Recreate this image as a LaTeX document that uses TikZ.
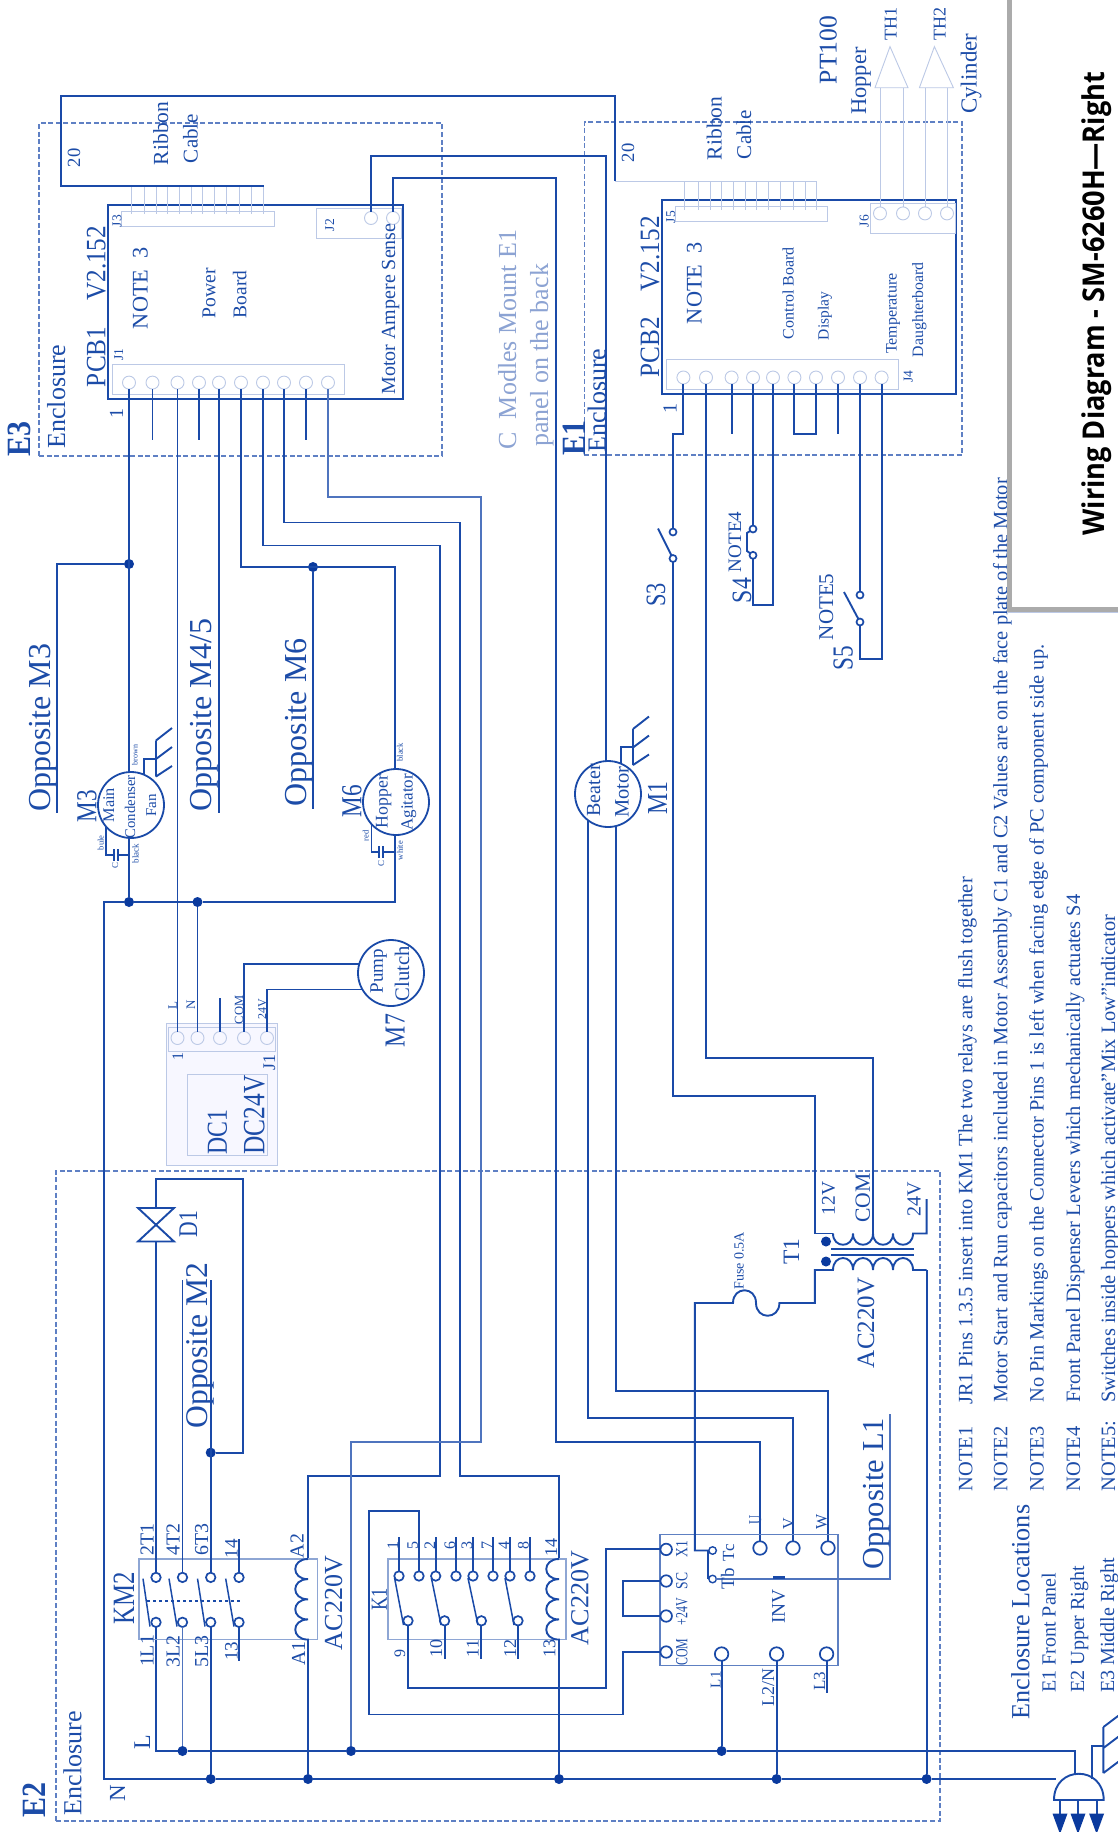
\documentclass[tikz,border=0pt]{standalone}
\usepackage{fontspec}
\setmainfont{Liberation Serif}
\newfontfamily\titlefont{Open Sans}
\definecolor{wirec}{HTML}{1A4AA8}
\definecolor{wirel}{HTML}{4F74BE}
\definecolor{dotc}{HTML}{0A3A9E}
\definecolor{lightc}{HTML}{BCC9E6}
\definecolor{midc}{HTML}{5E80C2}
\definecolor{dashc}{HTML}{5F80C4}
\definecolor{txtc}{HTML}{1C4CA8}
\definecolor{paleT}{HTML}{8CA3D3}
\definecolor{panelc}{HTML}{ABABAB}
\tikzset{
 wire/.style={draw=wirec,line width=1.9pt,line join=miter},
 wirelt/.style={draw=wirel,line width=1.7pt},
 thinw/.style={draw=lightc,line width=.9pt},
 dashbox/.style={draw=dashc,line width=1.3pt,dash pattern=on 5pt off 2.6pt,inner sep=0,outer sep=0},
 pcb/.style={draw=wirec,line width=1.8pt,inner sep=0,outer sep=0},
 hdr/.style={draw=lightc,line width=.9pt,inner sep=0,outer sep=0},
 relay/.style={draw=midc!70,line width=1.3pt,inner sep=0,outer sep=0},
 invbox/.style={draw=midc,line width=1.4pt,inner sep=0,outer sep=0},
 dcbox/.style={draw=lightc,fill=blue!3,line width=1pt,inner sep=0,outer sep=0},
 pinc/.style={circle,draw=lightc,line width=.9pt,minimum size=13pt,inner sep=0,outer sep=0},
 cont/.style={circle,draw=wirec,line width=1.7pt,minimum size=9.5pt,inner sep=0,outer sep=0},
 bigt/.style={circle,draw=wirec,line width=1.7pt,minimum size=13.5pt,inner sep=0,outer sep=0},
 smallt/.style={circle,draw=wirec,line width=1.4pt,minimum size=7.5pt,inner sep=0,outer sep=0},
 jdot/.style={circle,fill=dotc,minimum size=10pt,inner sep=0,outer sep=0},
 motor/.style={circle,draw=wirec,line width=1.8pt,minimum size=66pt,inner sep=0,outer sep=0},
 lbl/.style={rotate=90,anchor=base west,inner sep=0,outer sep=0,text=txtc,font=\fontsize{#1}{#1}\selectfont},
 gnd/.pic={\draw[wire] (0,0) -- (0,36) (0,0) -- (16,-12.5) (0,18.5) -- (16,6.5) (0,36) -- (16,25.5);}
}
\newcounter{lb}
\newcommand\lb[4][]{\stepcounter{lb}\node[lbl={#2},name=lb\arabic{lb},#1] at (#3) {#4};}
\newcommand\rbox[6]{\node[#1,name=#2,minimum width={(#5)-(#3)},minimum height={(#6)-(#4)}] at ({((#3)+(#5))/2},{((#4)+(#6))/2}) {};}
\begin{document}
\begin{tikzpicture}[x=1pt,y=-1pt]
\useasboundingbox (0,0) rectangle (1118,1832);
\fill[white] (0,0) rectangle (1118,1832);
% enclosures
\rbox{dashbox}{E3box}{39}{123}{442}{456}
\rbox{dashbox}{E1box}{584.4}{122}{962}{455}
\rbox{dashbox}{E2box}{56}{1171}{940}{1821}
% PCB1
\rbox{pcb}{PCB1}{108}{205}{403}{399}
\rbox{hdr}{J3}{121.4}{211}{274}{226}
\rbox{hdr}{J2}{316}{208}{401}{238}
\rbox{hdr}{J1}{112.5}{364}{344.6}{394.5}
\foreach \n/\x in {a/129,b/152.5,c/177.5,d/199,e/219,f/241,g/263,h/284,i/306,j/328}
  \node[pinc] (J1\n) at (\x,382.6) {};
\node[pinc] (J2a) at (371,218) {};
\node[pinc] (J2b) at (393,218) {};
\foreach \x in {131,144,156,167.5,179,191,202.5,214,226,239,251,263}
  \draw[thinw] (\x,186) -- (\x,214);
% PCB2
\rbox{pcb}{PCB2}{661.6}{199.6}{956}{394}
\rbox{hdr}{J5}{675}{206}{827.6}{221}
\rbox{hdr}{J6}{870}{203.6}{955}{233}
\rbox{hdr}{J4}{666}{359}{898}{389}
\foreach \n/\x in {a/683.4,b/706,c/731.6,d/753,e/773,f/794.4,g/816,h/838,i/860,j/881.6}
  \node[pinc] (J4\n) at (\x,377.5) {};
\foreach \n/\x in {a/880,b/903,c/925,d/947}
  \node[pinc] (J6\n) at (\x,213.4) {};
\foreach \x in {684.4,698,710,721.6,733,745,756.6,768,780,793,805,816}
  \draw[thinw] (\x,181) -- (\x,209.5);
\node[coordinate] (TH1) at (890,46.6) {};
\node[coordinate] (TH2) at (934.4,46.6) {};
\draw[thinw] (TH1) -- (875,87.7) -- (908,87.7) -- cycle;
\draw[thinw] (TH2) -- (919.4,87.7) -- (953.4,87.7) -- cycle;
\draw[thinw] (880,87.7) -- (J6a.north) (903,87.7) -- (J6b.north) (925,87.7) -- (J6c.north) (947,87.7) -- (J6d.north);
% motors
\node[motor] (M3) at (131,805) {};
\node[motor] (M6) at (396,802) {};
\node[motor] (M7) at (391,973) {};
\node[motor] (M1) at (608,794) {};
% junctions
\node[jdot] (dA) at (129,564) {};
\node[jdot] (dB) at (313,567) {};
\node[jdot] (dC) at (129,902) {};
\node[jdot] (dD) at (197.5,902) {};
\node[jdot] (dE) at (210.7,1452.6) {};
\node[jdot] (dL1) at (182.5,1751) {};
\node[jdot] (dL2) at (351,1751) {};
\node[jdot] (dL3) at (721.6,1751) {};
\node[jdot] (dN1) at (210.7,1779) {};
\node[jdot] (dN2) at (308,1779) {};
\node[jdot] (dN3) at (559,1779) {};
\node[jdot] (dN4) at (776.6,1779) {};
\node[jdot] (dN5) at (926.6,1779) {};
\coordinate (stub) at (0,439.5);
\coordinate (oM3) at (57,812.5);
\coordinate (oM45) at (219,812.5);
\coordinate (oM6) at (313,809);
% J1 wires
\draw[wire] (J1a.south) -- (J1a.south |- M3.north);
\draw[wire] (dA) -| (oM3);
\draw[wire] (J1b.south) -- (J1b |- stub);
\draw[wire] (J1c.south) -- (177.5,1031.5);
\draw[wire] (J1d.south) -- (J1d |- stub);
\draw[wire] (J1e.south) -- (oM45);
\draw[wire] (J1f.south) |- (394.6,567) -- (394.6,768.5);
\draw[wire] (dB) -- (oM6);
\draw[wire] (J1g.south) |- (439.6,545.5) -- (439.6,1476) -| (308,1559);
\draw[wire] (J1h.south) |- (459.6,522.5) -- (459.6,1476) -| (559,1559);
\draw[wire] (J1i.south) -- (J1i |- stub);
\draw[wirelt] (J1j.south) |- (481,497) -- (481,1442) -| (dL2);
% N network
\draw[wire] (394.6,835.5) -- (394.6,902) -- (dD) -- (dC) -- (104,902) -- (104,1779) -- (dN1) -- (dN2) -- (dN3) -- (dN4) -- (dN5) -- (1056,1779);
\draw[wire] (129,838) -- (dC);
\draw[wire] (dD) -- (197.5,1031.5);
% L bus
\draw[wire] (156,1627) -- (156,1751) -- (dL1) -- (dL2) -- (dL3) -- (1075,1751) -- (1075,1773);
% J2
\draw[wire] (J2a.north) |- (606,156) -- (606,761);
\node[bigt] (U) at (760,1548) {};
\node[bigt] (V) at (793,1548) {};
\node[bigt] (W) at (828,1548) {};
\draw[wire] (J2b.north) |- (556,178) -- (556,1442) -| (U.north);
\draw[wire] (M1.232) |- (793,1418) -- (V.north);
\draw[wire] (M1.284) |- (828,1391) -- (W.north);
% ribbon
\draw[wire] (263.6,186) -- (61,186) -- (61,96) -- (615,96) -- (615,181);
\draw[thinw] (615,181) -- (816,181);
% grounds
\draw[wire] (M3.67) |- (156,759);
\pic at (156,740.5) {gnd};
\draw[wire] (621,764) -- (621,747) -- (633,747);
\pic at (633,729) {gnd};
% caps
\draw[wire] (M3.220) |- (113.6,855);
\draw[wire] (113.6,849) -- (113.6,861) (118,849) -- (118,861) (118,855) -- (129,855);
\draw[wire] (M6.222) |- (379,852);
\draw[wire] (379,846) -- (379,858) (383,846) -- (383,858) (383,852) -- (394.6,852);
% DC1
\rbox{dcbox}{DC1}{166}{1023}{277.5}{1165}
\rbox{hdr}{DC1h}{168}{1027}{275.7}{1051}
\rbox{hdr}{DC1i}{187.5}{1074}{267}{1155}
\foreach \n/\x in {a/177.5,b/197.5,c/220,d/244,e/267}
  \node[pinc] (DC\n) at (\x,1038) {};
\draw[wire] (177.5,1020) -- (DCa.north);
\draw[wire] (197.5,1020) -- (DCb.north);
\draw[wire] (DCc.north) -- (220,997.5);
\draw[wire] (DCd.north) |- (M7.164);
\draw[wire] (DCe.north) |- (M7.210);
% D1
\coordinate (D1) at (156,1225);
\draw[wire] (138,1208) -- (174,1208) -- (138,1241.5) -- (174,1241.5) -- cycle;
\draw[wire] (156,1208) |- (243,1179) |- (dE);
\coordinate (oM2a) at (182.5,1280);
\coordinate (oM2b) at (210.7,1280);
% KM2
\rbox{relay}{KM2}{139}{1559}{317.5}{1639.6}
\foreach \n/\x in {1/156,2/182.5,3/210.7,4/239}{
  \node[cont] (K2t\n) at (\x,1577.4) {};
  \node[cont] (K2b\n) at (\x,1622.3) {};}
\draw[wire] (K2t1.north) -- (156,1241.5);
\draw[wire] (K2t2.north) -- (oM2a);
\draw[wire] (K2t3.north) -- (oM2b);
\draw[wire] (K2t4.north) -- (239,1539);
\draw[wire] (K2b4.south) -- (239,1660.7);
\draw[wirelt] (K2b2.south) -- (dL1);
\draw[wire] (K2b3.south) -- (dN1);
\draw[wire,line width=1.5pt] (143,1578.6) -- (150,1626.5) (169,1578.6) -- (177,1626.5) (197.5,1578.6) -- (205,1626.5) (225.7,1578.6) -- (234,1626.5);
\draw[wire,dashed,line width=1.5pt] (147,1601) -- (241,1601);
\draw[wire] (308,1559) foreach \i in {1,2,3,4} { .. controls +(-17,0) and +(-17,0) .. ++(0,20.15)} -- (dN2);
% K1
\rbox{relay}{K1}{388}{1559}{566}{1639.6}
\foreach \n/\x in {1/399,2/419,3/435.7,4/456,5/473,6/493,7/510,8/530}
  \node[cont] (K1t\n) at (\x,1576) {};
\foreach \n/\x in {1/408,2/444.6,3/481.4,4/518}
  \node[cont] (K1b\n) at (\x,1620.8) {};
\foreach \n in {1,3,4,5,6,7,8} \draw[wire] (K1t\n.north) -- (K1t\n |- 0,1537);
\draw[wire,line width=1.5pt] (394.6,1578) -- (403.5,1625) (431.4,1578) -- (441,1625) (468,1578) -- (478,1625) (505,1578) -- (514,1625);
\draw[wire] (K1b2.south) -- (444.6,1659) (K1b3.south) -- (481.4,1659) (K1b4.south) -- (518,1659);
\draw[wire] (559,1559) foreach \i in {1,2,3,4} { .. controls +(-17,0) and +(-17,0) .. ++(0,20.15)} -- (dN3);
% INV
\rbox{invbox}{INV}{660}{1534.4}{838}{1665.7}
\foreach \n/\y in {xo/1549.4,sc/1581,pv/1616,co/1652}
  \node[cont,minimum size=11.5pt] (I\n) at (666.2,\y) {};
\node[smallt] (Tc) at (712.6,1550.5) {};
\node[smallt] (Tb) at (712.6,1579) {};
\node[bigt] (IL1) at (721.6,1654) {};
\node[bigt] (IL2) at (776.6,1654) {};
\node[bigt] (IL3) at (826.6,1654) {};
\draw[wire] (K1t2.north) |- (369,1511) |- (623,1714.5) |- (Ico.west);
\draw[wire] (K1b1.south) |- (606,1687.6) |- (Ixo.west);
\draw[wire] (Isc.west) -| (623.4,1598) |- (Ipv.west);
\draw[wire] (IL1.south) -- (dL3);
\draw[wire] (IL2.south) -- (dN4);
\draw[wire] (IL3.south) -- (826.6,1692.6);
\draw[wire] (708,1551) -- (708,1579);
\draw[wirelt] (Tb.east) -- (890,1579) -- (890,1414);
\draw[wire,line width=2.6pt] (773,1577.5) -- (785,1577.5);
% switches
\node[cont,minimum size=7pt] (S3a) at (673,532) {};
\node[cont,minimum size=7pt] (S3b) at (673,558.5) {};
\node[cont,minimum size=7pt] (S4a) at (753,529) {};
\node[cont,minimum size=7pt] (S4b) at (753,555.3) {};
\node[cont,minimum size=7pt] (S5a) at (860,595) {};
\node[cont,minimum size=7pt] (S5b) at (860,622) {};
\draw[wire] (J4a.south) |- (673,434) -- (S3a.north);
\draw[wire] (658,528.5) -- (S3b);
\draw[wire] (S3b.south) |- (815,1096) |- (833,1233.5);
\draw[wire] (J4b.south) |- (873,1058) -- (873,1233.5);
\draw[wire] (J4c.south) -- (J4c |- 0,434);
\draw[wire] (J4d.south) -- (S4a.north);
\draw[wire] (S4a) -- (747,533) -- (747,551) -- (S4b);
\draw[wire] (S4b.south) |- (773,605) -- (J4e.south);
\draw[wire] (J4f.south) |- (816,434) -- (J4g.south);
\draw[wire] (J4h.south) -- (838,434);
\draw[wire] (J4i.south) -- (S5a.north);
\draw[wire] (844,592) -- (S5b);
\draw[wire] (S5b.south) |- (881.6,659) -- (J4j.south);
% transformer
\draw[wire] (833,1233.5) foreach \i in {1,2,3,4} { .. controls +(0,15) and +(0,15) .. ++(20,0)} -- (926.6,1233.5) -- (926.6,1199);
\draw[wire] (926.6,1270) -- (913,1270) foreach \i in {1,2,3,4} { .. controls +(0,-16) and +(0,-16) .. ++(-20,0)} -- (814.8,1270) |- (779.4,1303)
 .. controls (779.4,1320) and (756,1320) .. (756,1303) .. controls (756,1286) and (733,1286) .. (733,1303) -- (694.8,1303) |- (Tc.west);
\draw[wire] (926.6,1270) -- (dN5);
\draw[wire] (831,1249) -- (914,1249) (831,1255) -- (914,1255);
\node[jdot] (T1a) at (826,1241.5) {};
\node[jdot] (T1b) at (826,1261.5) {};
% P1
\coordinate (P1l) at (1054,1800);
\coordinate (P1r) at (1103.7,1800);
\draw[wire] (P1l) .. controls (1054,1765) and (1103.7,1765) .. (P1r) -- cycle;
\foreach \x in {1060,1078,1096.6}{
 \draw[wire] (\x,1800) -- (\x,1814);
 \fill[dotc] (\x-7.5,1813.5) -- (\x+7.5,1813.5) -- (\x,1834) -- cycle;}
\draw[wire] (1092,1779) -- (1092,1746) -- (1103.4,1746);
\draw[wire] (1103.4,1727) -- (1103.4,1773) (1103.4,1727) -- (1122,1713) (1103.4,1748) -- (1122,1734) (1103.4,1773) -- (1122,1759);
% text
\lb[xscale=.88]{34}{30,456}{\bfseries E3}
\lb{26}{65,448.6}{Enclosure}
\lb[xscale=.9]{28}{105.4,387}{PCB1\hspace{29pt}V2.152}
\lb{20}{123,418}{1}
\lb{13.5}{123,360.5}{J1}
\lb{13.5}{121.4,227}{J3}
\lb{18.6}{80,167}{20}
\lb{21.5}{168,165}{Ribbon}
\lb{21}{197.5,163}{Cable}
\lb{22.3}{147.5,329}{NOTE\ \ 3}
\lb{19.6}{215.4,318}{Power}
\lb{19.4}{246.4,318}{Board}
\lb{13.5}{334,231}{J2}
\lb{20}{395,394.5}{Motor Ampere Sense}
\lb[text=paleT]{26}{516,449.4}{C\ \ Modles Mount E1}
\lb[text=paleT]{26}{548,446.6}{panel on the back}
\lb[xscale=.88]{34}{585,455}{\bfseries E1}
\lb{26}{605.5,452.6}{Enclosure}
\lb[xscale=.9]{28}{659,377.5}{PCB2\hspace{29pt}V2.152}
\lb{20}{676.6,413}{1}
\lb{13.5}{675,223}{J5}
\lb{18.6}{634,162}{20}
\lb{21.5}{721.6,160}{Ribbon}
\lb{21}{751,159}{Cable}
\lb{22.3}{701.6,324}{NOTE\ \ 3}
\lb{16}{793.7,339}{Control Board}
\lb{15.5}{828.7,340}{Display}
\lb{16}{896.6,353.8}{Temperature}
\lb{15.8}{923,357}{Daughterboard}
\lb{13.5}{912.6,382.6}{J4}
\lb{13.5}{868.7,227}{J6}
\lb{25.6}{836.6,84}{PT100}
\lb{22.4}{866,114.6}{Hopper}
\lb{22.9}{976.6,113.8}{Cylinder}
\lb{18}{896.6,40.7}{TH1}
\lb{18}{945.5,40.7}{TH2}
\lb[xscale=.8]{28}{665,606.7}{S3}
\lb{19}{741,572}{NOTE4}
\lb[xscale=.85]{28}{751,603}{S4}
\lb{21}{833,640}{NOTE5}
\lb[xscale=.8]{29}{852.6,670.6}{S5}
\lb{32}{50,811.7}{Opposite M3}
\lb{32}{211.8,811.7}{Opposite M4/5}
\lb{32}{306,806.5}{Opposite M6}
\lb{31.6}{207,1428.5}{Opposite M2}
\lb{30.5}{883,1569.7}{Opposite L1}
\lb[xscale=.8]{29}{96.4,822.4}{M3}
\lb{16.3}{114,822.4}{Main}
\lb{14.8}{135,838.6}{Condenser}
\lb{15}{156,816.4}{Fan}
\lb{8}{137.5,765}{brown}
\lb{8.5}{103.6,850}{bule}
\lb{9}{138.6,863}{black}
\lb{9}{118,868}{C}
\lb[xscale=.8]{29}{361.4,817.6}{M6}
\lb{17.8}{387.5,828.3}{Hopper}
\lb{17}{412.5,830.7}{Agitator}
\lb{8.5}{402.8,761.5}{black}
\lb{8.5}{368.6,841}{red}
\lb{8.5}{402.8,860}{white}
\lb{9}{384,866}{C}
\lb{20}{600,816.4}{Beater}
\lb{20.5}{628.7,817.6}{Motor}
\lb[xscale=.82]{29}{667,814.5}{M1}
\lb{13}{176.8,1009}{L}
\lb{13}{195,1009}{N}
\lb{12.5}{243,1024}{COM}
\lb{12}{266,1019}{24V}
\lb{16}{183,1060.7}{1}
\lb{17.8}{275,1070.6}{J1}
\lb[xscale=.82]{29}{226.8,1154.4}{DC1}
\lb[xscale=.82]{31}{264.3,1154.4}{DC24V}
\lb{19}{382.8,993.5}{Pump}
\lb{20.7}{409,1001.4}{Clutch}
\lb[xscale=.82]{29}{404.6,1047}{M7}
\lb[xscale=.8]{27}{197,1237}{D1}
\lb[xscale=.8]{31}{134,1624.6}{KM2}
\lb{19.8}{153.6,1555.5}{2T1}
\lb{19.8}{179.6,1555.5}{4T2}
\lb{19.8}{208,1555.5}{6T3}
\lb{19}{237.5,1558}{14}
\lb{19.8}{153.6,1666.9}{1L1}
\lb{19.8}{179.6,1667.6}{3L2}
\lb{19.8}{208,1667.6}{5L3}
\lb{19}{237.5,1660.7}{13}
\lb{19.8}{303.6,1558}{A2}
\lb{19.8}{305,1665.7}{A1}
\lb{26}{342,1650}{AC220V}
\lb{24}{150,1749}{L}
\lb{23}{125,1801}{N}
\lb[xscale=.88]{34}{45.4,1817.3}{\bfseries E2}
\lb{26}{81.4,1815.4}{Enclosure}
\lb[xscale=.8]{23}{386.8,1610.8}{K1}
\lb{16}{398,1549.4}{1}
\lb{16}{417.9,1549.4}{5}
\lb{16}{435,1549.4}{2}
\lb{16}{455,1549.4}{6}
\lb{16}{472,1549.4}{3}
\lb{16}{492,1549.4}{7}
\lb{16}{509,1549.4}{4}
\lb{16}{528.6,1549.4}{8}
\lb{18}{557,1556}{14}
\lb{16}{405,1657}{9}
\lb{18}{442,1657}{10}
\lb{18}{478.6,1657}{11}
\lb{18}{516,1657}{12}
\lb{18}{555.4,1657}{13}
\lb{26}{588.4,1645}{AC220V}
\lb[xscale=.8]{17}{687.3,1557}{X1}
\lb[xscale=.8]{17}{687.3,1589}{SC}
\lb[xscale=.7]{17}{687.3,1625.4}{+24V}
\lb[xscale=.7]{17}{687.3,1665.7}{COM}
\lb{19}{734,1589}{Tb}
\lb{17}{734,1561}{Tc}
\lb[xscale=.7]{18}{761,1524.8}{U}
\lb{16}{793.7,1529.4}{V}
\lb{16}{826.6,1529.4}{W}
\lb{19.4}{784.8,1623.5}{INV}
\lb{15}{720.5,1688}{L1}
\lb{18}{774,1706}{L2/N}
\lb{17}{825,1690.7}{L3}
\lb{14}{743.7,1289.5}{Fuse 0.5A}
\lb{23.5}{799,1264.5}{T1}
\lb{19.5}{834.8,1215}{12V}
\lb{21.7}{869.8,1222.8}{COM}
\lb{20}{920.5,1216}{24V}
\lb{25}{874,1368}{AC220V}
\lb{20.4}{972.3,1491}{NOTE1}
\lb{20.4}{972.3,1404.7}{JR1 Pins 1.3.5 insert into KM1 The two relays are flush together}
\lb{20.4}{1007.3,1491}{NOTE2}
\lb{20.4}{1007.3,1402.7}{Motor Start and Run capacitors included in Motor Assembly C1 and C2 Values are on the face plate of the Motor}
\lb{20.4}{1043.7,1491}{NOTE3}
\lb{20.4}{1043.7,1402.7}{No Pin Markings on the Connector Pins 1 is left when facing edge of PC component side up.}
\lb{20.4}{1080,1491}{NOTE4}
\lb{20.4}{1080,1402.7}{Front Panel Dispenser Levers which mechanically actuates S4}
\lb{20.4}{1115,1491}{NOTE5:}
\lb{20.4}{1115,1402.7}{Switches inside hoppers which activate"Mix Low"indicator}
\lb{26.2}{1029.4,1719.4}{Enclosure Locations}
\lb{20}{1055.5,1692.6}{E1 Front Panel}
\lb{20}{1084,1692.6}{E2 Upper Right}
\lb{20}{1114,1692.6}{E3 Middle Right}
% panel
\fill[white] (1011,-3) rectangle (1121,609);
\draw[panelc,line width=5pt] (1009,-3) -- (1009,609) -- (1121,609);
\draw[lightc,line width=.7pt] (1008,612.5) -- (1120,612.5);
\node[rotate=90,xscale=.905,anchor=base west,inner sep=0,font=\titlefont\bfseries\fontsize{30}{30}\selectfont,text=black,name=title] at (1104,535.6) {Wiring Diagram - SM-6260H—Right};
\end{tikzpicture}
\end{document}
